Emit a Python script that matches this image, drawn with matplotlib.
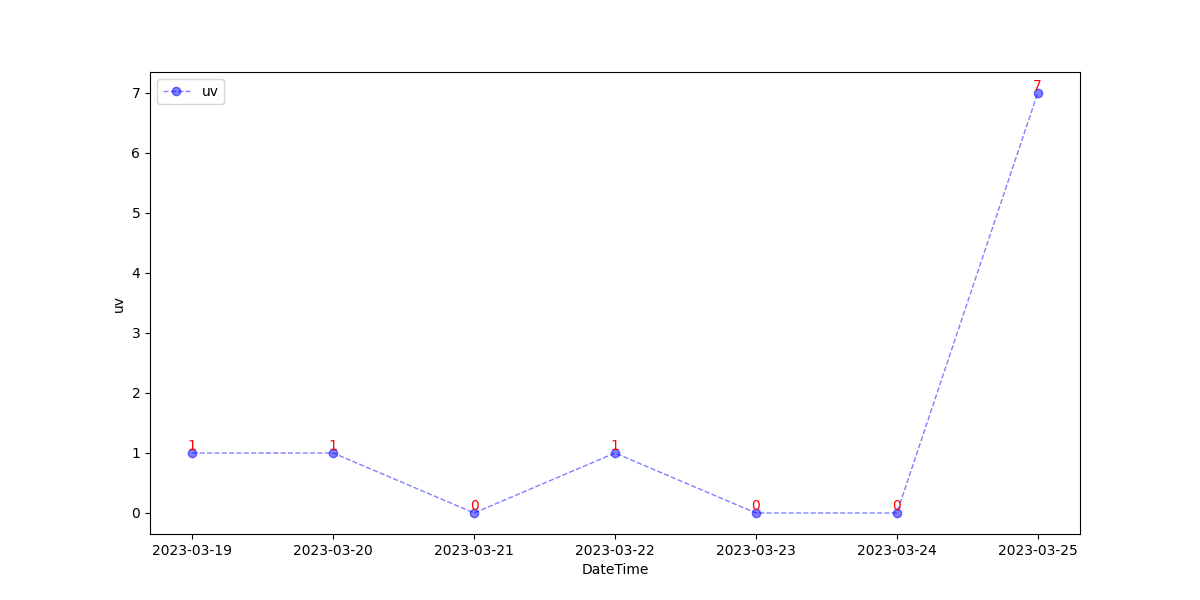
import matplotlib
matplotlib.use('Agg')
from matplotlib import pyplot as plt

dates = ['2023-03-19', '2023-03-20', '2023-03-21', '2023-03-22',
         '2023-03-23', '2023-03-24', '2023-03-25']
uv = [1, 1, 0, 1, 0, 0, 7]

fig, ax = plt.subplots(figsize=(12, 6), dpi=100)
ax.plot(dates, uv, color='blue', marker='o', linestyle='--', linewidth=1,
        alpha=0.5, label='uv')
for d, v in zip(dates, uv):
    ax.text(d, v, str(v), color='red', ha='center', va='bottom', fontsize=10)

ax.set_xlabel('DateTime')
ax.set_ylabel('uv')
ax.legend(loc='upper left')
fig.savefig('out.png')
